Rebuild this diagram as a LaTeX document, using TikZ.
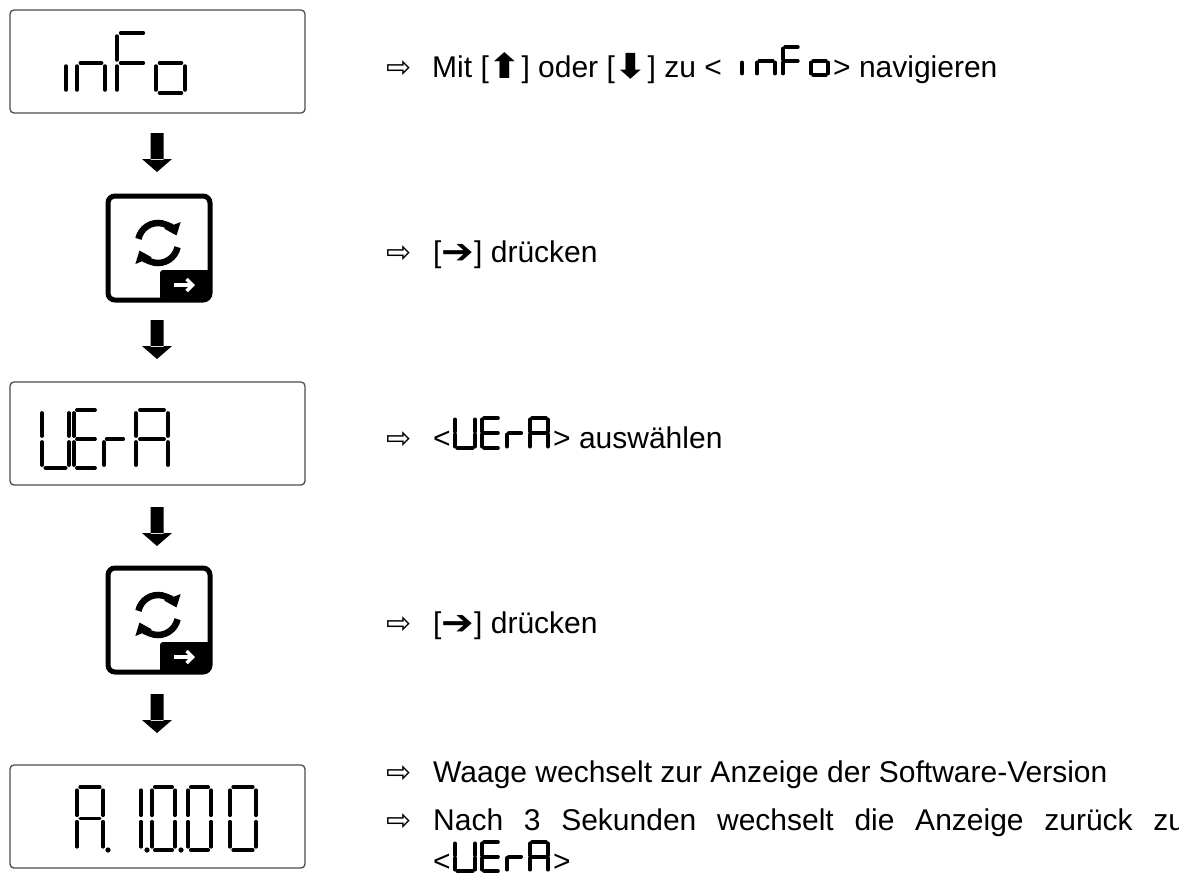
\documentclass[tikz,border=0pt]{standalone}
\usepackage{fontspec}
\setmainfont{Liberation Sans}
\newfontfamily\dvs{DejaVu Sans}
\usetikzlibrary{arrows.meta}
\newcommand\sga{\draw[segl] ({\X+0.12*\W},\Y)--({\X+0.88*\W},\Y);}
\newcommand\sgb{\draw[segl] ({\X+\W},{\Y+0.1*\H})--({\X+\W},{\Y+0.9*\H});}
\newcommand\sgc{\draw[segl] ({\X+\W},{\Y+1.1*\H})--({\X+\W},{\Y+1.9*\H});}
\newcommand\sgd{\draw[segl] ({\X+0.12*\W},{\Y+2*\H})--({\X+0.88*\W},{\Y+2*\H});}
\newcommand\sge{\draw[segl] (\X,{\Y+1.1*\H})--(\X,{\Y+1.9*\H});}
\newcommand\sgf{\draw[segl] (\X,{\Y+0.1*\H})--(\X,{\Y+0.9*\H});}
\newcommand\sgg{\draw[segl] ({\X+0.12*\W},{\Y+\H})--({\X+0.88*\W},{\Y+\H});}
\newcommand\sevdig[6]{\def\X{#1}\def\Y{#2}\def\W{#3}\def\H{#4}\def\LW{#5}%
  \foreach \s in {#6}{\csname sg\s\endcsname}}
\newcommand\lcddot[3]{\fill (#1,#2) circle (#3);}
\newcommand\keyicon[2]{%
  \draw[line width=5pt,rounded corners=7pt] (#1-51,#2-52) rectangle (#1+51,#2+52);
  \fill[rounded corners=3pt] (#1+1,#2+22) rectangle (#1+51,#2+52);
  \draw[white,line width=4pt,-{Straight Barb[length=6pt,width=12pt,line width=3.5pt]}] (#1+15,#2+37)--(#1+36,#2+37);
  \draw[line width=6.5pt,-{Triangle[length=11pt,width=17pt]}] (#1-1,#2-5) ++(192:20) arc[start angle=192,end angle=338,radius=20];
  \draw[line width=6.5pt,-{Triangle[length=11pt,width=17pt]}] (#1-1,#2-5) ++(12:20) arc[start angle=12,end angle=158,radius=20];
}
\newcommand\flowarrow[2]{%
  \fill (#1-6.5,#2) rectangle (#1+6.5,#2+27) (#1-15,#2+26)--(#1+15,#2+26)--(#1,#2+39)--cycle;}
\newcommand\bigarr[1]{{\dvs\bfseries\raisebox{-1pt}{\scalebox{1.3}[1.15]{#1}}}}
\begin{document}
\begin{tikzpicture}[x=1pt,y=-1pt,
  segl/.style={line width=\LW pt,line cap=round},
  lcd/.style={draw=black!70,line width=1.3pt,rounded corners=4pt},
  txt/.style={anchor=base west,inner sep=0pt,font=\fontsize{30}{36}\selectfont},
  pt/.style={anchor=base west,inner sep=0pt,font=\dvs\fontsize{30}{36}\selectfont}]
\useasboundingbox (0,0) rectangle (1179,876);
\clip (0,0) rectangle (1179,876);
% displays
\draw[lcd] (10,10) rectangle (305,113);
\draw[lcd] (10,382) rectangle (305,485);
\draw[lcd] (10,765) rectangle (305,868);
% box1 inFo
\sevdig{66}{33}{28}{30}{3.5}{e}
\sevdig{77}{33}{28}{30}{3.5}{e,g,c}
\sevdig{117}{33}{30}{30}{3.5}{a,f,g,e}
\sevdig{156}{33}{29}{30}{3.5}{g,c,d,e}
% box2 UErA
\sevdig{42}{410}{27}{29}{3.5}{b,c,d,e,f}
\sevdig{74}{410}{24}{29}{3.5}{a,d,e,f,g}
\sevdig{104}{410}{22}{29}{3.5}{e,g}
\sevdig{136}{410}{32}{29}{3.5}{a,b,c,e,f,g}
% box3 A. 1.0.00
\sevdig{77}{787}{26}{31.5}{3.5}{a,b,c,e,f,g}
\lcddot{108}{850}{2.6}
\sevdig{117}{787}{24}{31.5}{3.5}{b,c}
\lcddot{147}{850}{2.6}
\sevdig{152}{787}{23}{31.5}{3.5}{a,b,c,d,e,f}
\lcddot{181}{850}{2.6}
\sevdig{188}{787}{23}{31.5}{3.5}{a,b,c,d,e,f}
\sevdig{230}{787}{26}{31.5}{3.5}{a,b,c,d,e,f}
% arrows and keys
\flowarrow{157}{133}
\keyicon{159}{248}
\flowarrow{157}{320}
\flowarrow{157}{507}
\keyicon{159}{620}
\flowarrow{157}{694}
% texts
\node[pt] (p1) at (386,77) {⇨};
\node[txt] (t1) at (432,77) {Mit [\bigarr{⬆}] oder [\bigarr{⬇}] zu <};
\sevdig{742}{47}{16}{14}{3.5}{e}
\sevdig{757}{47}{18}{14}{3.5}{e,g,c}
\sevdig{783}{47}{17}{14}{3.5}{a,f,g,e}
\sevdig{811}{47}{17}{14}{3.5}{g,c,d,e}
\node[txt] (t1b) at (833,77) {> navigieren};
\node[pt] (p2) at (386,262) {⇨};
\node[txt] (t2) at (433,262) {[\bigarr{➔}] drücken};
\node[pt] (p3) at (386,448) {⇨};
\node[txt] (t3) at (433,448) {<};
\sevdig{455}{418}{20}{15}{4}{b,c,d,e,f}
\sevdig{482}{418}{18}{15}{4}{a,d,e,f,g}
\sevdig{507}{418}{16}{15}{4}{e,g}
\sevdig{530}{418}{18}{15}{4}{a,b,c,e,f,g}
\node[txt] (t3b) at (553,448) {> auswählen};
\node[pt] (p4) at (386,633) {⇨};
\node[txt] (t4) at (433,633) {[\bigarr{➔}] drücken};
\node[pt] (p5) at (386,782) {⇨};
\node[txt] (t5) at (433,782) {Waage wechselt zur Anzeige der Software-Version};
\node[pt] (p6) at (386,830) {⇨};
\node[txt] (t6) at (433,830) {\makebox[752pt][s]{Nach 3 Sekunden wechselt die Anzeige zurück zu}};
\node[txt] (t7) at (433,871) {<};
\sevdig{455}{842}{20}{14.5}{4}{b,c,d,e,f}
\sevdig{482}{842}{18}{14.5}{4}{a,d,e,f,g}
\sevdig{507}{842}{16}{14.5}{4}{e,g}
\sevdig{530}{842}{18}{14.5}{4}{a,b,c,e,f,g}
\node[txt] (t7b) at (553,871) {>};
\end{tikzpicture}
\end{document}
